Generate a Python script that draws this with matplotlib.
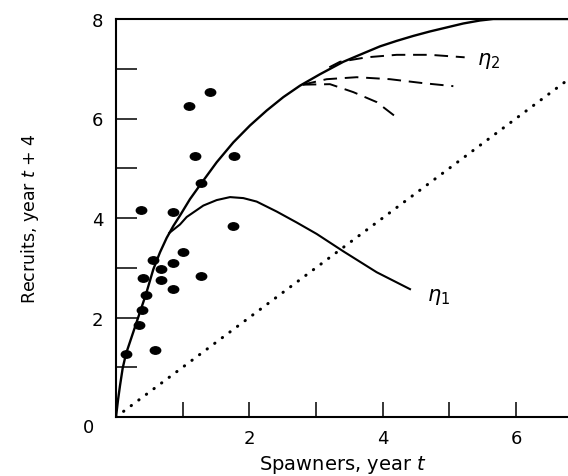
import numpy as np
import matplotlib
matplotlib.use("Agg")
import matplotlib.pyplot as plt
from matplotlib.path import Path
from matplotlib.transforms import Affine2D

# observed spawner / recruit pairs
spawners = [1.41, 1.10, 1.19, 1.77, 1.27, 0.37, 0.86, 1.76, 1.01, 0.55, 0.67,
            0.85, 0.40, 0.67, 1.27, 0.85, 0.45, 0.39, 0.34, 0.58, 0.15]
recruits = [6.53, 6.26, 5.24, 5.24, 4.70, 4.16, 4.13, 3.83, 3.31, 3.16, 2.97,
            3.09, 2.79, 2.75, 2.84, 2.57, 2.46, 2.16, 1.84, 1.35, 1.27]

# main recruitment curve
main_x = [0.0, 0.03, 0.06, 0.10, 0.15, 0.26, 0.35, 0.45, 0.56, 0.66, 0.76, 0.86,
          0.96, 1.11, 1.27, 1.51, 1.76, 2.01, 2.26, 2.51, 2.76, 3.06, 3.41,
          3.71, 3.96, 4.21, 4.46, 4.71, 4.96, 5.21, 5.46, 5.66, 6.8]
main_y = [0.0, 0.34, 0.63, 0.98, 1.27, 1.71, 2.07, 2.47, 2.97, 3.31, 3.60, 3.84,
          4.05, 4.38, 4.68, 5.12, 5.52, 5.86, 6.16, 6.43, 6.66, 6.89, 7.14,
          7.31, 7.45, 7.56, 7.66, 7.75, 7.83, 7.91, 7.97, 8.0, 8.0]

# eta_1 branch
eta1_x = [0.80, 0.96, 1.06, 1.31, 1.51, 1.71, 1.91, 2.11, 2.41, 2.71, 3.01, 3.41,
          3.91, 4.41]
eta1_y = [3.70, 3.87, 4.02, 4.25, 4.36, 4.42, 4.40, 4.33, 4.13, 3.91, 3.68, 3.33,
          2.91, 2.57]

# dashed branches (eta_2 family)
dash_top_x = [3.2, 3.36, 3.76, 4.21, 4.71, 5.23]
dash_top_y = [7.03, 7.14, 7.23, 7.28, 7.28, 7.23]
dash_mid_x = [2.80, 3.16, 3.61, 4.11, 4.61, 5.06]
dash_mid_y = [6.68, 6.79, 6.83, 6.79, 6.71, 6.65]
dash_low_x = [2.80, 3.21, 3.56, 3.91, 4.23]
dash_low_y = [6.68, 6.69, 6.53, 6.33, 6.00]

# replacement line
repl = [0.0, 6.8]

fig = plt.figure(figsize=(5.68, 4.77), dpi=100)
ax = fig.add_axes([116 / 568, 59 / 477, 452 / 568, 398 / 477])

dot = Path.unit_circle().transformed(Affine2D().scale(1.4, 1.0))
ax.plot(spawners, recruits, linestyle="none", marker=dot, ms=7.5, color="black")

ax.plot(main_x, main_y, color="black", lw=1.7, solid_joinstyle="round")
ax.plot(eta1_x, eta1_y, color="black", lw=1.5, solid_joinstyle="round")
for xs, ys in [(dash_top_x, dash_top_y), (dash_mid_x, dash_mid_y), (dash_low_x, dash_low_y)]:
    ax.plot(xs, ys, color="black", lw=1.4, linestyle=(0, (7, 4)))
ax.plot(repl, repl, color="black", lw=2.2, linestyle=(0, (0.1, 3)), dash_capstyle="round")

ax.text(4.66, 2.43, r"$\eta_1$", fontsize=15, va="center", ha="left")
ax.text(5.41, 7.17, r"$\eta_2$", fontsize=15, va="center", ha="left")

ax.set_xlim(0, 6.78)
ax.set_ylim(0, 8)
ax.set_xticks([0, 2, 4, 6])
ax.set_xticklabels(["", "2", "4", "6"])
ax.set_xticks([1, 3, 5], minor=True)
ax.set_yticks([0, 2, 4, 6, 8])
ax.set_yticklabels(["", "2", "4", "6", "8"])
ax.set_yticks([1, 3, 5, 7], minor=True)
ax.tick_params(axis="x", which="both", direction="in", length=11, width=1.1,
               pad=9, labelsize=13)
ax.tick_params(axis="y", which="both", direction="in", length=15, width=1.1,
               pad=9, labelsize=13)
ax.spines["right"].set_visible(False)
for s in ["left", "bottom", "top"]:
    ax.spines[s].set_linewidth(1.5)

fig.text(88 / 568, 1 - 428 / 477, "0", fontsize=13, ha="center", va="center")
fig.text(343 / 568, 1 - 465 / 477, r"Spawners, year $t$", fontsize=14,
         ha="center", va="center")
fig.text(30 / 568, 1 - 219 / 477, r"Recruits, year $t$ + 4", fontsize=12.5,
         rotation=90, ha="center", va="center")

fig.savefig("out.png", dpi=100)
